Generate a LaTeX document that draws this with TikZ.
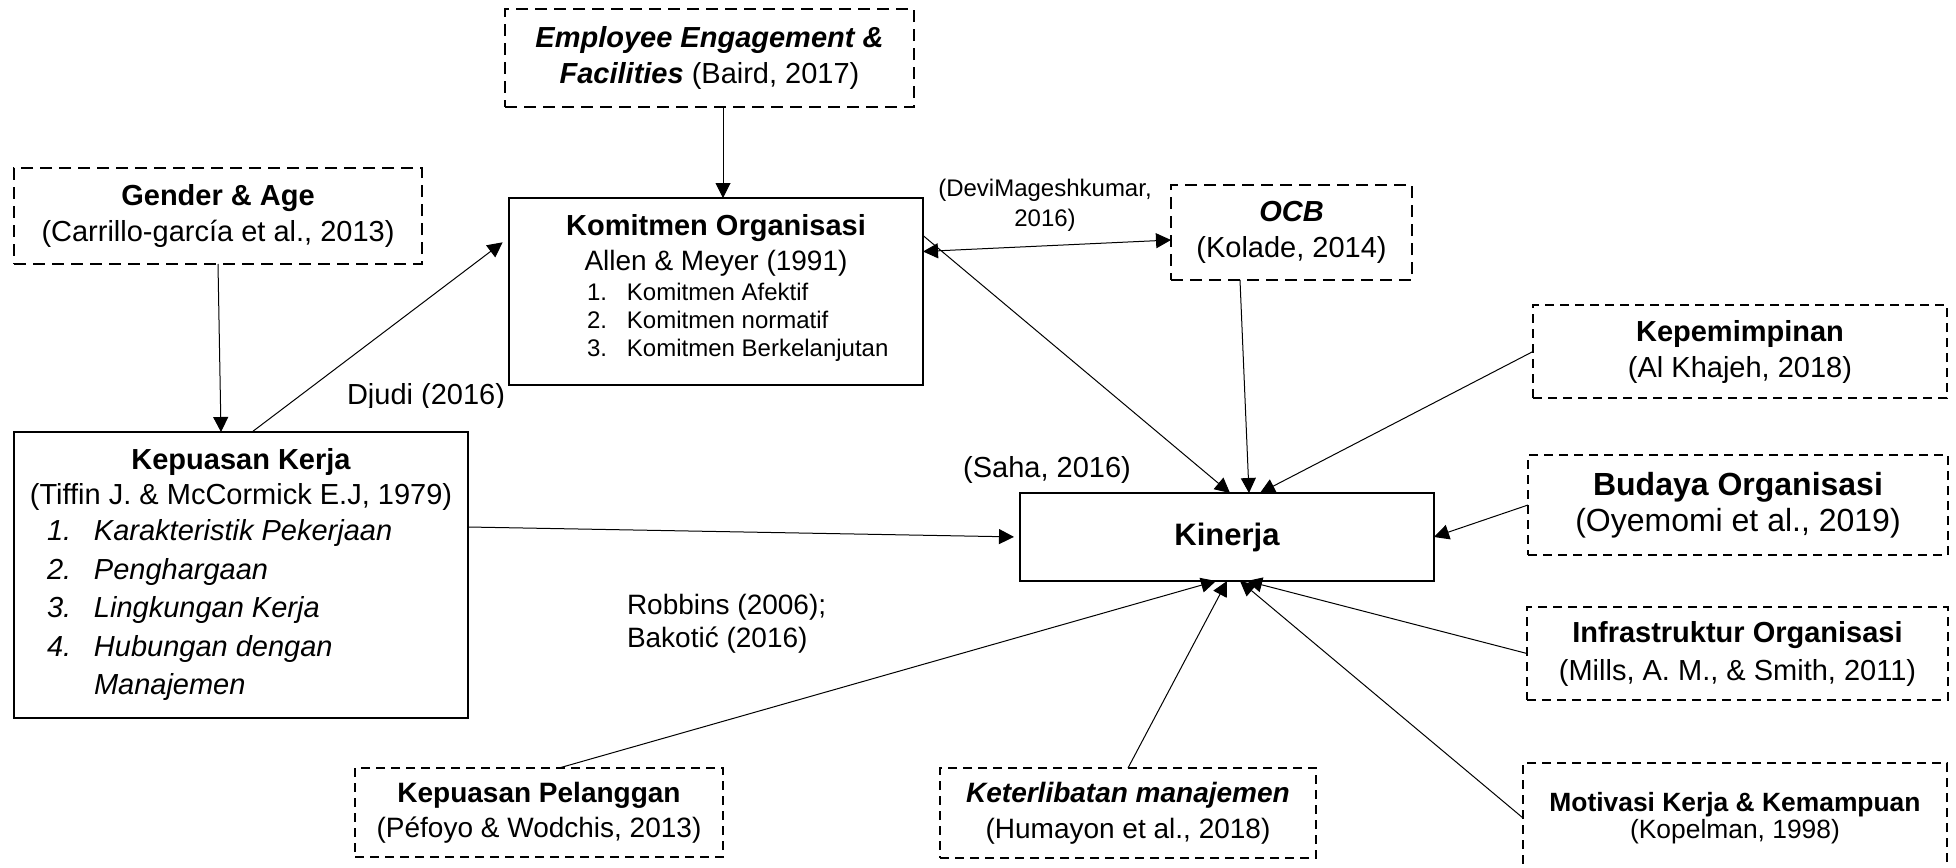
\documentclass[tikz,border=0pt]{standalone}
\usepackage{fontspec}
\setmainfont{Liberation Sans}
\usetikzlibrary{arrows.meta}
\begin{document}
\begin{tikzpicture}[x=0.5pt,y=-0.5pt,
  every node/.style={inner sep=0pt, outer sep=0pt},
  solidbox/.style={draw, line width=1.1pt},
  thickdash/.style={draw, line width=1pt, dash pattern=on 6pt off 3.5pt},
  thindash/.style={draw, line width=0.6pt, dash pattern=on 4.5pt off 3pt},
  tip/.tip={Triangle[length=7.5pt,width=7.5pt]},
  conn/.style={line width=0.5pt, -tip},
  ft/.style={font=\fontsize{14.5}{18}\selectfont, align=center},
]
\fill[white] (0,0) rectangle (1956,868);
\useasboundingbox (0,0) rectangle (1956,868);

% boxes
\node[thickdash, ft, minimum width=204.5pt, minimum height=49pt] (ee) at (709.5,58)
  {\textbf{\textit{Employee Engagement \&}}\\\textbf{\textit{Facilities}} (Baird, 2017)};
\node[thickdash, ft, minimum width=204pt, minimum height=48pt] (gen) at (218,216)
  {\textbf{Gender \& Age}\\(Carrillo-garcía et al., 2013)};

\node[solidbox, minimum width=207pt, minimum height=93.5pt] (kom) at (716,291.5) {};
\node[font=\fontsize{14.5}{18}\selectfont\bfseries] (komt) at (716,228) {Komitmen Organisasi};
\node[font=\fontsize{14}{17}\selectfont] (koma) at (716,263) {Allen \& Meyer (1991)};
\node[anchor=west, font=\fontsize{12}{14}\selectfont] (koml) at (587,322.5)
  {\begin{tabular}{@{}p{20pt}@{}l@{}}1.&Komitmen Afektif\\2.&Komitmen normatif\\3.&Komitmen Berkelanjutan\end{tabular}};

\node[thickdash, ft, minimum width=120.5pt, minimum height=47.5pt] (ocb) at (1291.5,232.5)
  {\textbf{\textit{OCB}}\\(Kolade, 2014)};
\node[thindash, ft, minimum width=207pt, minimum height=46.5pt] (kep) at (1740,351.5)
  {\textbf{Kepemimpinan}\\(Al Khajeh, 2018)};
\node[thindash, align=center, font=\fontsize{16}{18}\selectfont, minimum width=210pt, minimum height=50pt] (bud) at (1738,505)
  {\textbf{Budaya Organisasi}\\(Oyemomi et al., 2019)};
\node[solidbox, font=\fontsize{15.5}{18}\selectfont\bfseries, minimum width=207pt, minimum height=44pt] (kin) at (1227,537) {Kinerja};
\node[thindash, ft, minimum width=210.5pt, minimum height=46.5pt] (inf) at (1737.5,653.5)
  {\textbf{Infrastruktur Organisasi}\\[1pt](Mills, A. M., \& Smith, 2011)};
\node[thindash, align=center, font=\fontsize{13.2}{12}\selectfont, minimum width=212pt, minimum height=55pt] (mot) at (1735,818)
  {\textbf{Motivasi Kerja \& Kemampuan}\\(Kopelman, 1998)};
\node[thindash, align=center, font=\fontsize{14}{17.5}\selectfont, minimum width=184pt, minimum height=44.5pt] (kp) at (539,812.5)
  {\textbf{Kepuasan Pelanggan}\\(Péfoyo \& Wodchis, 2013)};
\node[thindash, align=center, font=\fontsize{14}{18}\selectfont, minimum width=188pt, minimum height=45pt] (ket) at (1128,813)
  {\textbf{\textit{Keterlibatan manajemen}}\\(Humayon et al., 2018)};

\node[solidbox, minimum width=227pt, minimum height=143pt] (kk) at (241,575) {};
\node[font=\fontsize{14.5}{18}\selectfont\bfseries] (kkt) at (241,462) {Kepuasan Kerja};
\node[font=\fontsize{14.5}{18}\selectfont] (kka) at (241,497) {(Tiffin J. \& McCormick E.J, 1979)};
\node[anchor=west, font=\fontsize{14.5}{19.25}\selectfont\itshape] (kkl) at (47,610)
  {\begin{tabular}{@{}p{23.5pt}@{}l@{}}1.&Karakteristik Pekerjaan\\2.&Penghargaan\\3.&Lingkungan Kerja\\4.&Hubungan dengan\\&Manajemen\end{tabular}};

% labels
\begin{scope}
\clip (330,370) rectangle (520,407);
\node[anchor=west, font=\fontsize{14.5}{18}\selectfont] (djudi) at (347,397) {Djudi (2016)};
\end{scope}
\node[font=\fontsize{12}{15}\selectfont, align=center] (devi) at (1045,205) {(DeviMageshkumar,\\2016)};
\node[font=\fontsize{14.5}{18}\selectfont] (saha) at (1047,470) {(Saha, 2016)};
\node[anchor=west, align=left, font=\fontsize{14}{16.5}\selectfont] (rob) at (627,623.5) {Robbins (2006);\\Bakotić (2016)};

% connectors
\draw[conn] ([xshift=6.75pt]ee.south) -- ([xshift=3.5pt]kom.north);
\draw[conn] (gen.south) -- ([xshift=-10pt]kk.north);
\draw[conn, shorten >=4pt] ([xshift=5.5pt]kk.north) -- ([yshift=27pt]kom.west);
\draw[line width=0.5pt, tip-tip] ([yshift=20pt]kom.east) -- ([yshift=-3.75pt]ocb.west);
\draw[conn] ([yshift=28pt]kom.east) -- ([xshift=1.5pt]kin.north);
\draw[conn] ([xshift=-25.75pt]ocb.south) -- ([xshift=11pt]kin.north);
\draw[conn] (kep.west) -- ([xshift=16.5pt]kin.north);
\draw[conn] (bud.west) -- (kin.east);
\draw[conn, shorten >=3pt] ([yshift=24pt]kk.east) -- (kin.west);
\draw[conn] ([xshift=10pt]kp.north) -- ([xshift=-5.5pt]kin.south);
\draw[conn] (ket.north) -- (kin.south);
\draw[conn] (mot.west) -- ([xshift=6.5pt]kin.south);
\draw[conn] (inf.west) -- ([xshift=10pt]kin.south);
\end{tikzpicture}
\end{document}
